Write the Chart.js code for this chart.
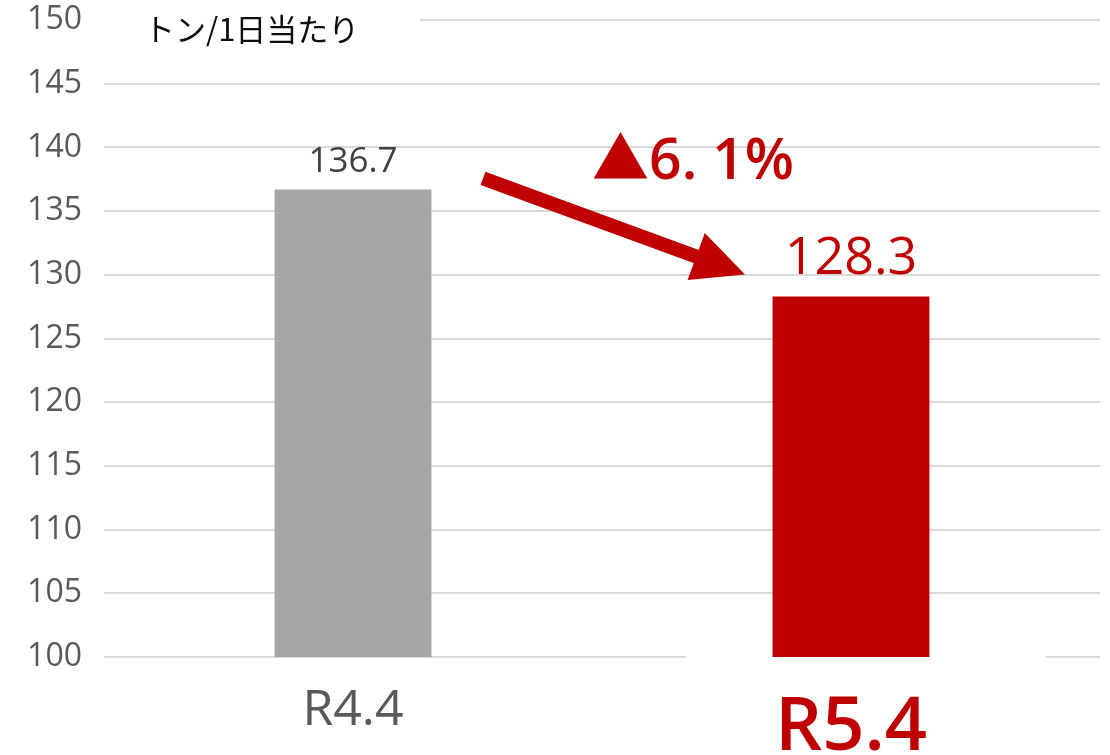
<!DOCTYPE html>
<html>
<head>
<meta charset="utf-8">
<style>
  html, body { margin: 0; padding: 0; background: #fff; }
  #wrap { width: 1110px; height: 755px; }
</style>
<script src="https://cdn.jsdelivr.net/npm/chart.js@4"></script>
</head>
<body>
<div id="wrap"><canvas id="chart" width="1110" height="755"></canvas></div>
<script>
// data
const categories = ["R4.4", "R5.4"];
const values = [136.7, 128.3];
const barColors = ["#a6a6a6", "#c00000"];
const yTicks = [100, 105, 110, 115, 120, 125, 130, 135, 140, 145, 150];
const unitLabel = "トン/1日当たり";
const changeLabel = "▲6. 1%";

const FONT = "'Open Sans', 'Noto Sans', 'Noto Sans CJK JP', sans-serif";

// white boxes behind the unit label and the R5.4 label (they hide gridlines)
const maskPlugin = {
    id: 'mask',
    beforeDatasetsDraw(chart) {
        const ctx = chart.ctx;
        const area = chart.chartArea;
        const y = chart.scales.y;
        const bars = chart.getDatasetMeta(0).data;
        ctx.save();
        ctx.fillStyle = '#fff';
        ctx.fillRect(area.left - 2, y.getPixelForValue(150) - 4, 318, 8);
        ctx.fillRect(bars[1].x - 165, y.getPixelForValue(100) - 3, 360, 8);
        ctx.restore();
    }
};

const labelPlugin = {
    id: 'labels',
    afterDatasetsDraw(chart) {
        const ctx = chart.ctx;
        const area = chart.chartArea;
        const y = chart.scales.y;
        const bars = chart.getDatasetMeta(0).data;
        ctx.save();

        // unit label
        ctx.fillStyle = '#0d0d0d';
        ctx.font = "31px 'Noto Sans CJK JP', sans-serif";
        ctx.textAlign = 'left';
        ctx.textBaseline = 'middle';
        ctx.fillText(unitLabel, area.left + 40, y.getPixelForValue(150) + 9);

        // value labels
        ctx.textAlign = 'center';
        ctx.textBaseline = 'alphabetic';
        ctx.fillStyle = '#404040';
        ctx.font = "35px " + FONT;
        ctx.fillText(values[0].toFixed(1), bars[0].x, bars[0].y - 17);
        ctx.fillStyle = '#c00000';
        ctx.font = "500 52px " + FONT;
        ctx.fillText(values[1].toFixed(1), bars[1].x, bars[1].y - 22);

        // arrow
        const x1 = bars[0].x + 130, y1 = bars[0].y - 11;
        const x2 = bars[1].x - 106, y2 = bars[1].y - 22;
        const ang = Math.atan2(y2 - y1, x2 - x1);
        const headLen = 52, headW = 25;
        const bx = x2 - headLen * Math.cos(ang), by = y2 - headLen * Math.sin(ang);
        ctx.strokeStyle = '#c00000';
        ctx.lineWidth = 14;
        ctx.beginPath();
        ctx.moveTo(x1, y1);
        ctx.lineTo(bx + 4 * Math.cos(ang), by + 4 * Math.sin(ang));
        ctx.stroke();
        ctx.beginPath();
        ctx.moveTo(x2, y2);
        ctx.lineTo(bx + headW * Math.sin(ang), by - headW * Math.cos(ang));
        ctx.lineTo(bx - headW * Math.sin(ang), by + headW * Math.cos(ang));
        ctx.closePath();
        ctx.fill();

        // change label
        ctx.font = "600 57px " + FONT;
        ctx.fillText(changeLabel, (bars[0].x + bars[1].x) / 2 + 91, bars[0].y - 10);

        ctx.restore();
    }
};

new Chart(document.getElementById('chart'), {
    type: 'bar',
    data: {
        labels: categories,
        datasets: [{
            data: values,
            backgroundColor: barColors,
            categoryPercentage: 1,
            barPercentage: 0.315
        }]
    },
    options: {
        responsive: false,
        animation: false,
        layout: { padding: { top: 20, right: 10, left: 0, bottom: 0 } },
        plugins: {
            legend: { display: false },
            tooltip: { enabled: false }
        },
        scales: {
            x: {
                grid: { display: false },
                border: { display: false },
                ticks: {
                    padding: 12,
                    color: (c) => c.index === 1 ? '#c00000' : '#595959',
                    font: (c) => c.index === 1
                        ? { family: FONT, size: 74, weight: '600', lineHeight: 1.4 }
                        : { family: FONT, size: 50, weight: 'normal', lineHeight: 1.35 }
                },
                afterFit(scale) {
                    scale.height = 98;
                    scale.paddingTop = 0;
                    scale.paddingBottom = 0;
                }
            },
            y: {
                min: 100,
                max: 150,
                afterBuildTicks(scale) { scale.ticks = yTicks.map(v => ({ value: v })); },
                grid: { color: '#d9d9d9', lineWidth: 2, drawTicks: false },
                border: { display: false },
                ticks: {
                    padding: 22,
                    color: '#595959',
                    font: { family: FONT, size: 32 }
                },
                afterFit(scale) {
                    scale.width = 104;
                    scale.paddingTop = 0;
                    scale.paddingBottom = 0;
                }
            }
        }
    },
    plugins: [maskPlugin, labelPlugin]
});
</script>
</body>
</html>
